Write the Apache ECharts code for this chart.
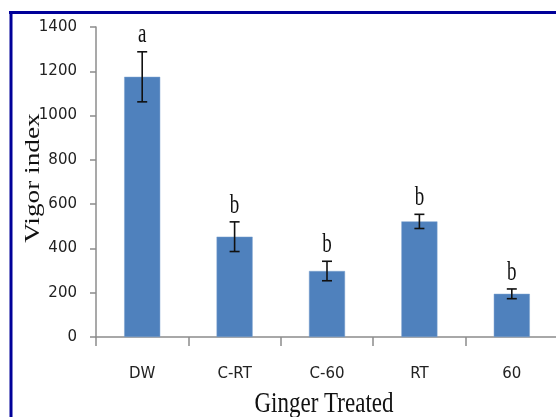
<!DOCTYPE html>
<html>
<head>
<meta charset="utf-8">
<script src="https://cdn.jsdelivr.net/npm/echarts@6/dist/echarts.min.js"></script>
<style>
  html, body { margin: 0; padding: 0; background: #fff; }
  #chart { width: 556px; height: 417px; }
</style>
</head>
<body>
<div id="chart"></div>
<script>
// Vigor index of ginger-treated seeds, mean ± error with significance letters
const categories = ['DW', 'C-RT', 'C-60', 'RT', '60'];
const vigorIndex = [1175, 453, 298, 522, 195];
const errorSize = [113, 67, 44, 32, 22];
const groupLetters = ['a', 'b', 'b', 'b', 'b'];
const yTicks = [0, 200, 400, 600, 800, 1000, 1200, 1400];
const xTitle = 'Ginger Treated';
const yTitle = 'Vigor index';

const chart = echarts.init(document.getElementById('chart'));

const errData = categories.map((c, i) => [i, vigorIndex[i] - errorSize[i], vigorIndex[i] + errorSize[i], groupLetters[i]]);

chart.setOption({
  animation: false,
  backgroundColor: '#fff',
  grid: { left: 96, top: 27, right: -2, bottom: 80, containLabel: false, outerBoundsMode: 'none' },
  graphic: [
    // frame edges
    { type: 'line', shape: { x1: 9, y1: 12.5, x2: 556, y2: 12.5 }, style: { stroke: '#000099', lineWidth: 3 } },
    { type: 'line', shape: { x1: 11, y1: 11, x2: 11, y2: 417 }, style: { stroke: '#000099', lineWidth: 3 } },
    // axis titles
    {
      type: 'text', x: 324, y: 404.5, scaleY: 1.27,
      style: { text: xTitle, x: 0, y: 0, align: 'center', verticalAlign: 'middle',
               font: '23px "Liberation Serif"', fill: '#111' }
    },
    {
      type: 'text', x: 33, y: 178, rotation: Math.PI / 2, scaleX: 1.3,
      style: { text: yTitle, x: 0, y: 0, align: 'center', verticalAlign: 'middle',
               font: '21px "Liberation Serif"', fill: '#111' }
    }
  ],
  xAxis: {
    type: 'category',
    data: categories,
    axisLine: { lineStyle: { color: '#8c8c8c', width: 1.5 } },
    axisTick: { show: true, length: 9, lineStyle: { color: '#8c8c8c', width: 1.5 } },
    axisLabel: { fontFamily: 'DejaVu Sans', fontSize: 15, color: '#222', margin: 30 }
  },
  yAxis: {
    type: 'value',
    min: 0,
    max: 1400,
    interval: 200,
    splitLine: { show: false },
    axisLine: { show: true, lineStyle: { color: '#8c8c8c', width: 1.5 } },
    axisTick: { show: true, length: 6, lineStyle: { color: '#8c8c8c', width: 1.5 } },
    axisLabel: {
      fontFamily: 'DejaVu Sans', fontSize: 15, color: '#222', margin: 19,
      formatter: v => (yTicks.includes(v) ? String(v) : '')
    }
  },
  series: [
    {
      type: 'bar',
      data: vigorIndex,
      barWidth: '39%',
      itemStyle: { color: '#4F81BD', borderColor: '#7ba0cf', borderWidth: 0.5 }
    },
    {
      type: 'custom',
      data: errData,
      z: 10,
      renderItem: function (params, api) {
        const x = api.coord([api.value(0), 0])[0];
        const low = api.coord([api.value(0), api.value(1)]);
        const high = api.coord([api.value(0), api.value(2)]);
        const cap = 5;
        const st = { stroke: '#111', lineWidth: 1.6 };
        return {
          type: 'group',
          children: [
            { type: 'line', shape: { x1: x, y1: high[1], x2: x, y2: low[1] }, style: st },
            { type: 'line', shape: { x1: x - cap, y1: high[1], x2: x + cap, y2: high[1] }, style: st },
            { type: 'line', shape: { x1: x - cap, y1: low[1], x2: x + cap, y2: low[1] }, style: st },
            {
              type: 'text',
              x: x, y: high[1] - 3, scaleY: 1.4,
              style: {
                text: api.value(3),
                x: 0, y: 0,
                align: 'center', verticalAlign: 'bottom',
                font: '19px "Liberation Serif"', fill: '#111'
              }
            }
          ]
        };
      }
    }
  ]
});
</script>
</body>
</html>
